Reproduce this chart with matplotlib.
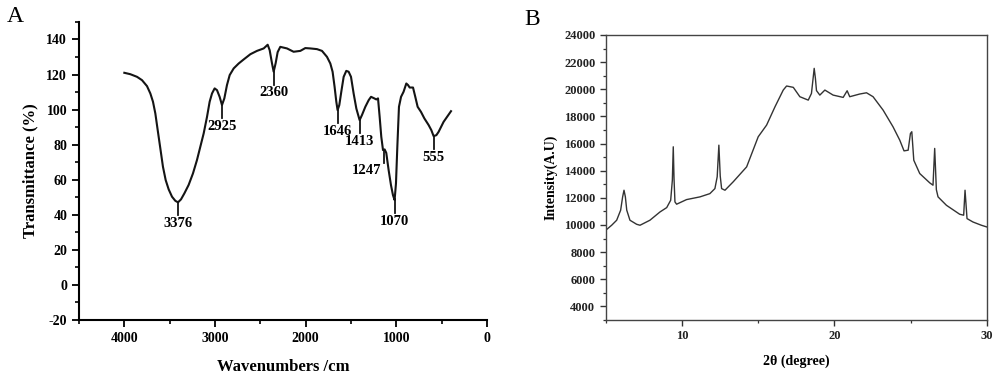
# FTIR spectrum (A) and XRD pattern (B)

# IMPORTS
import matplotlib
matplotlib.use('Agg')
import matplotlib.pyplot as plt
from matplotlib.ticker import MultipleLocator

# DATA - FTIR
ftir_wn = [4000, 3934, 3860, 3805, 3750, 3713, 3684, 3658, 3632, 3603,
           3574, 3544, 3511, 3474, 3438, 3408, 3375, 3338, 3291, 3243,
           3199, 3162, 3125, 3088, 3059, 3033, 3004, 2978, 2949, 2923,
           2897, 2868, 2838, 2794, 2739, 2684, 2610, 2537, 2463, 2419,
           2397, 2371, 2353, 2331, 2309, 2280, 2206, 2133, 2059, 2004,
           1949, 1875, 1820, 1765, 1728, 1703, 1681, 1662, 1648, 1629,
           1607, 1581, 1552, 1526, 1500, 1471, 1441, 1405, 1379, 1342,
           1305, 1279, 1243, 1221, 1202, 1184, 1166, 1147, 1129, 1111,
           1085, 1059, 1037, 1019, 1004, 989, 971, 948, 920, 890,
           871, 853, 816, 791, 765, 728, 691, 644, 614, 589,
           559, 534, 479, 397]
ftir_t = [121.0, 120.2, 118.7, 116.8, 113.4, 109.2, 104.5, 97.8, 88.3, 77.9,
          67.4, 59.8, 54.5, 50.3, 48.0, 47.1, 48.8, 52.2, 57.0, 63.6,
          71.2, 78.8, 86.4, 95.9, 104.5, 109.2, 112.1, 111.1, 107.3, 102.6,
          106.4, 114.0, 119.7, 123.5, 126.3, 128.6, 131.6, 133.5, 134.9, 137.0,
          133.9, 126.3, 121.6, 126.5, 132.8, 135.8, 134.9, 133.0, 133.5, 135.1,
          134.9, 134.5, 133.5, 130.1, 126.3, 121.6, 113.0, 104.5, 99.7, 102.6,
          110.2, 118.7, 122.1, 121.6, 118.7, 109.2, 100.6, 94.0, 96.9, 101.6,
          105.4, 107.3, 106.4, 105.8, 106.4, 95.9, 84.5, 76.9, 77.3, 75.3,
          65.5, 56.9, 51.2, 48.4, 57.9, 78.8, 101.6, 107.3, 110.2, 114.9,
          114.0, 112.6, 112.6, 107.3, 101.6, 98.7, 95.0, 91.2, 88.3, 84.9,
          85.4, 87.3, 93.0, 99.1]
peak_wn = [3408, 2923, 2353, 1648, 1405, 1140, 1019, 589]
peak_t = [47.1, 102.6, 121.6, 99.7, 94.0, 77.0, 48.4, 84.9]
peak_labels = ['3376', '2925', '2360', '1646', '1413', '1247', '1070', '555']

# DATA - XRD
xrd_2theta = [5.0, 5.39, 5.72, 5.98, 6.11, 6.2, 6.29, 6.38, 6.59, 7.03,
              7.25, 7.9, 8.56, 9.0, 9.26, 9.37, 9.43, 9.48, 9.54, 9.65,
              10.3, 11.18, 11.83, 12.16, 12.31, 12.42, 12.51, 12.6, 12.82, 13.36,
              14.24, 15.0, 15.55, 16.1, 16.64, 16.86, 17.3, 17.73, 18.28, 18.49,
              18.67, 18.75, 18.82, 19.04, 19.37, 19.91, 20.57, 20.83, 21.0, 21.66,
              22.1, 22.53, 23.19, 23.84, 24.28, 24.56, 24.83, 24.98, 25.07, 25.2,
              25.59, 26.25, 26.46, 26.57, 26.63, 26.68, 26.79, 27.34, 28.21, 28.47,
              28.56, 28.62, 28.69, 29.08, 29.63, 30.0]
xrd_int = [9610, 9980, 10350, 11090, 12070, 12560, 12070, 11090, 10350, 10050,
           9980, 10350, 10960, 11280, 11820, 13300, 15760, 13400, 11700, 11530,
           11870, 12070, 12310, 12680, 13550, 15880, 13600, 12680, 12560, 13180,
           14280, 16500, 17360, 18710, 19940, 20240, 20140, 19450, 19200, 19690,
           21540, 20800, 19900, 19570, 19940, 19570, 19400, 19890, 19450, 19650,
           19740, 19450, 18460, 17230, 16250, 15460, 15510, 16740, 16870, 14770,
           13790, 13100, 12930, 15640, 14000, 12600, 12070, 11450, 10790, 10720,
           12560, 11600, 10470, 10220, 9980, 9850]

SERIF = ['Liberation Serif', 'DejaVu Serif']
plt.rcParams['font.family'] = SERIF
plt.rcParams['font.weight'] = 'bold'
plt.rcParams['axes.unicode_minus'] = False


def ftir_panel(ax):
    '''
    Panel A: transmittance vs wavenumber, with marked bands
    '''
    ax.plot(ftir_wn, ftir_t, color='#141414', lw=1.5)
    for wn, t, lab in zip(peak_wn, peak_t, peak_labels):
        ax.plot([wn, wn], [t, t - 7.5], color='#141414', lw=1.3)
        dx = -12 if lab == '1247' else 0
        ax.annotate(lab, xy=(wn, t - 7.5), xytext=(dx, -1),
                    textcoords='offset points', ha='center', va='top',
                    fontsize=10.5, fontweight='bold')
    ax.set_xlim(4500, 0)
    ax.set_ylim(-20, 150)
    ax.xaxis.set_major_locator(MultipleLocator(1000))
    ax.xaxis.set_minor_locator(MultipleLocator(500))
    ax.yaxis.set_minor_locator(MultipleLocator(10))
    ax.set_yticks(range(-20, 141, 20))
    for side in ['top', 'right']:
        ax.spines[side].set_visible(False)
    for side in ['left', 'bottom']:
        ax.spines[side].set_linewidth(1.5)
    ax.tick_params(which='major', length=5, width=1.3, labelsize=10)
    ax.tick_params(which='minor', length=3, width=1.2)
    ax.set_xlabel('Wavenumbers /cm', fontsize=12, fontweight='bold',
                  labelpad=10)
    ax.set_ylabel('Transmittance (%)', fontsize=12, fontweight='bold',
                  labelpad=6)


def xrd_panel(ax):
    '''
    Panel B: XRD intensity vs 2theta
    '''
    ax.plot(xrd_2theta, xrd_int, color='#333333', lw=1.0)
    ax.set_xlim(5, 30)
    ax.set_ylim(3000, 24000)
    ax.xaxis.set_major_locator(MultipleLocator(10))
    ax.xaxis.set_minor_locator(MultipleLocator(5))
    ax.set_yticks(range(4000, 24001, 2000))
    ax.yaxis.set_minor_locator(MultipleLocator(1000))
    for side in ax.spines:
        ax.spines[side].set_linewidth(1.0)
        ax.spines[side].set_color('#444444')
    ax.tick_params(which='major', length=4, width=1.0, labelsize=9,
                   colors='#333333', labelcolor='#222222')
    ax.tick_params(which='minor', length=2.5, width=0.9, colors='#333333')
    ax.set_xlabel('2θ (degree)', fontsize=10, fontweight='bold', labelpad=9)
    ax.set_ylabel('Intensity(A.U)', fontsize=10, fontweight='bold', labelpad=5)


if __name__ == "__main__":
    fig = plt.figure(figsize=(10, 3.76), dpi=100)
    ax_a = fig.add_axes([0.079, 0.149, 0.408, 0.7926])
    ax_b = fig.add_axes([0.6057, 0.149, 0.3813, 0.758])
    ftir_panel(ax_a)
    xrd_panel(ax_b)
    fig.text(0.007, 0.955, 'A', fontsize=17, fontweight='normal',
             va='center')
    fig.text(0.524, 0.948, 'B', fontsize=17, fontweight='normal',
             va='center')
    fig.savefig('out.png', dpi=100)
    plt.close(fig)
